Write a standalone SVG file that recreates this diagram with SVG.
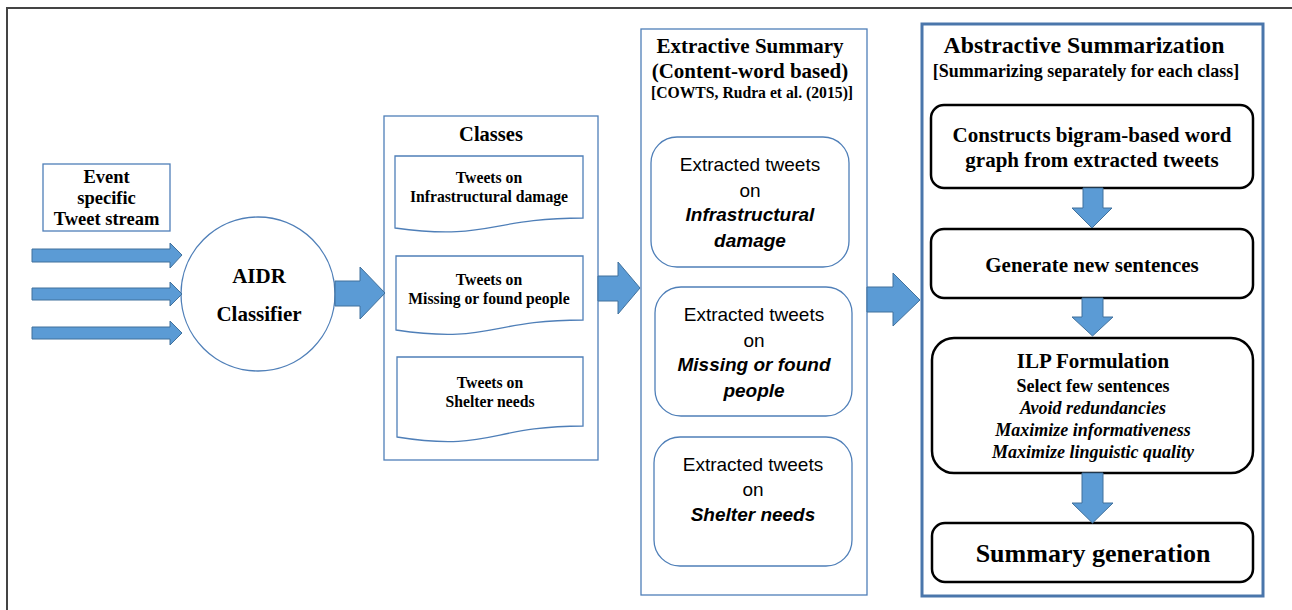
<svg xmlns="http://www.w3.org/2000/svg" width="1292" height="610" viewBox="0 0 1292 610">
<style>
.serif{font-family:"Liberation Serif","Times New Roman",serif;font-weight:bold;fill:#000;text-anchor:middle}
.it{font-style:italic}
.sans{font-family:"Liberation Sans",Arial,sans-serif;fill:#000;text-anchor:middle}
.bi{font-weight:bold;font-style:italic}
.blue{fill:#fff;stroke:#4f7fb8;stroke-width:1.3}
.rbox{fill:#fff;stroke:#000;stroke-width:2.5}
.arr{fill:#5b9bd5;stroke:#41719c;stroke-width:1}
</style>
<rect width="1292" height="610" fill="#fff"/>
<path d="M7,610 V8 H1292" fill="none" stroke="#444" stroke-width="2"/>

<g id="event">
<rect class="blue" x="43" y="164" width="127" height="67"/>
<text class="serif" font-size="18.5" x="106.5" y="183">Event</text>
<text class="serif" font-size="18.5" x="106.5" y="204">specific</text>
<text class="serif" font-size="18.5" x="106.5" y="225">Tweet stream</text>
</g>

<g id="aidr">
<circle class="blue" cx="258" cy="294" r="77"/>
<text class="serif" font-size="21" x="259" y="283">AIDR</text>
<text class="serif" font-size="21" x="259" y="321">Classifier</text>
</g>

<g id="classes">
<rect class="blue" x="384" y="116" width="214" height="344"/>
<text class="serif" font-size="20.5" x="491" y="141">Classes</text>
<path class="blue" d="M395,156 H583 V218 C489,218 489,241 395,228 Z"/>
<text class="serif" font-size="15.7" x="489" y="183">Tweets on</text>
<text class="serif" font-size="15.7" x="489" y="202">Infrastructural damage</text>
<path class="blue" d="M396,256 H583 V320 C489.5,320 489.5,344 396,330 Z"/>
<text class="serif" font-size="15.7" x="489" y="285">Tweets on</text>
<text class="serif" font-size="15.7" x="489" y="304">Missing or found people</text>
<path class="blue" d="M397,357 H583 V426 C490,426 490,452 397,437 Z"/>
<text class="serif" font-size="15.7" x="490" y="388">Tweets on</text>
<text class="serif" font-size="15.7" x="490" y="407">Shelter needs</text>
</g>

<g id="extractive">
<rect class="blue" x="641" y="29" width="226" height="566"/>
<text class="serif" font-size="21" x="750" y="53">Extractive Summary</text>
<text class="serif" font-size="21" x="750" y="78">(Content-word based)</text>
<text class="serif" font-size="15.7" x="752" y="98">[COWTS, Rudra et al. (2015)]</text>
</g>

<g id="ext1">
<rect class="blue" x="651" y="137" width="198" height="130" rx="26"/>
<text class="sans" font-size="19" x="750" y="171">Extracted tweets</text>
<text class="sans" font-size="19" x="750" y="197">on</text>
<text class="sans bi" font-size="19" x="750" y="221">Infrastructural</text>
<text class="sans bi" font-size="19" x="750" y="247">damage</text>
</g>
<g id="ext2">
<rect class="blue" x="655" y="287" width="197" height="129" rx="26"/>
<text class="sans" font-size="19" x="754" y="321">Extracted tweets</text>
<text class="sans" font-size="19" x="754" y="347">on</text>
<text class="sans bi" font-size="19" x="754" y="371">Missing or found</text>
<text class="sans bi" font-size="19" x="754" y="397">people</text>
</g>
<g id="ext3">
<rect class="blue" x="654" y="437" width="198" height="129" rx="26"/>
<text class="sans" font-size="19" x="753" y="471">Extracted tweets</text>
<text class="sans" font-size="19" x="753" y="496">on</text>
<text class="sans bi" font-size="19" x="753" y="521">Shelter needs</text>
</g>

<g id="abstractive">
<rect x="922" y="24" width="341" height="572" fill="#fff" stroke="#4a76ab" stroke-width="3"/>
<text class="serif" font-size="23.8" x="1084" y="53">Abstractive Summarization</text>
<text class="serif" font-size="18" x="1086" y="77">[Summarizing separately for each class]</text>
</g>

<g id="construct">
<rect class="rbox" x="931" y="105" width="322" height="83" rx="13"/>
<text class="serif" font-size="21" x="1092" y="142">Constructs bigram-based word</text>
<text class="serif" font-size="21" x="1092" y="167">graph from extracted tweets</text>
</g>
<g id="generate">
<rect class="rbox" x="931" y="229" width="322" height="69" rx="13"/>
<text class="serif" font-size="21" x="1092" y="272">Generate new sentences</text>
</g>
<g id="ilp">
<rect class="rbox" x="932" y="338" width="321" height="135" rx="22"/>
<text class="serif" font-size="21" x="1093" y="368">ILP Formulation</text>
<text class="serif" font-size="18" x="1093" y="392">Select few sentences</text>
<text class="serif it" font-size="18" x="1093" y="414">Avoid redundancies</text>
<text class="serif it" font-size="18" x="1093" y="436">Maximize informativeness</text>
<text class="serif it" font-size="18" x="1093" y="458">Maximize linguistic quality</text>
</g>
<g id="summary">
<rect class="rbox" x="932" y="523" width="321" height="59" rx="13"/>
<text class="serif" font-size="26" x="1093" y="562">Summary generation</text>
</g>

<g id="connectors">
<path class="arr" d="M32,249 H170 V243 L182,255 L170,268 V262 H32 Z"/>
<path class="arr" d="M32,288 H170 V282 L182,294 L170,306 V300 H32 Z"/>
<path class="arr" d="M32,327 H170 V321 L182,333 L170,345 V339 H32 Z"/>
<path class="arr" d="M335,281 H360 V267 L385,293 L360,319 V306 H335 Z"/>
<path class="arr" d="M598,276 H618 V262 L640,288 L618,314 V301 H598 Z"/>
<path class="arr" d="M867,287 H893 V273 L920,300 L893,326 V312 H867 Z"/>
<path class="arr" d="M1083,188 H1103 V208 H1112 L1092,228 L1072,208 H1083 Z"/>
<path class="arr" d="M1082,298 H1103 V317 H1113 L1092.5,336 L1072,317 H1082 Z"/>
<path class="arr" d="M1082,473 H1103 V503 H1113 L1092.5,523 L1072,503 H1082 Z"/>
</g>
</svg>
